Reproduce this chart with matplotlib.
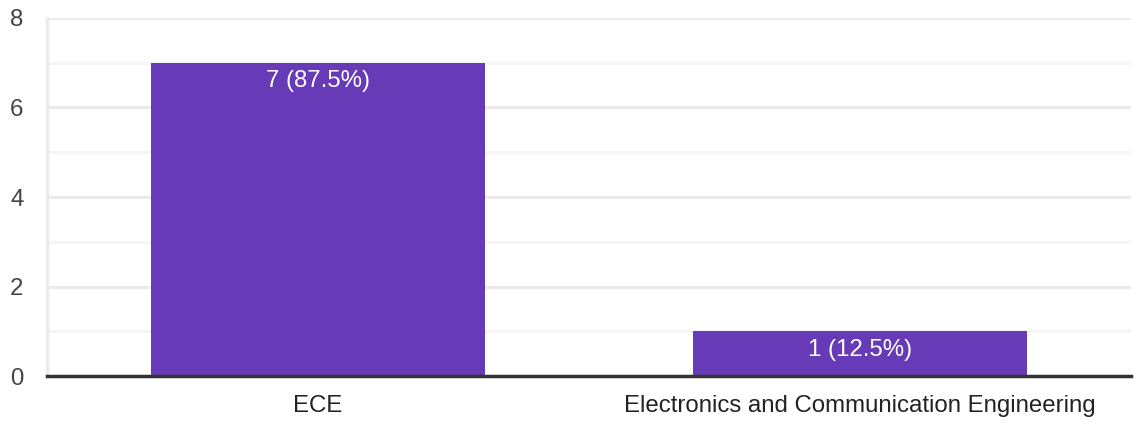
import numpy as np
import matplotlib
matplotlib.use("Agg")
import matplotlib.pyplot as plt

categories = ["ECE", "Electronics and Communication Engineering"]
counts = [7, 1]
labels = ["7 (87.5%)", "1 (12.5%)"]

plt.rcParams["font.family"] = ["Liberation Sans", "DejaVu Sans"]

fig = plt.figure(figsize=(11.34, 4.23), dpi=100)
ax = fig.add_axes([47 / 1134, 47 / 423, 1084 / 1134, 358 / 423])

x = np.arange(len(categories))
bars = ax.bar(x, counts, width=0.617, color="#673ab7", zorder=3)

for b, lab in zip(bars, labels):
    ax.annotate(lab, (b.get_x() + b.get_width() / 2, b.get_height()),
                xytext=(0, -5.5), textcoords="offset points",
                ha="center", va="top", color="white", fontsize=17.3, zorder=4)

ax.set_xlim(-0.5, 1.5)
ax.set_ylim(0, 8)
ax.set_xticks(x)
ax.set_xticklabels(categories)
ax.set_yticks([0, 2, 4, 6, 8])
ax.set_yticks([1, 3, 5, 7], minor=True)

ax.grid(axis="y", which="major", color="#ebebeb", linewidth=2.2, zorder=0)
ax.grid(axis="y", which="minor", color="#f5f5f5", linewidth=2.2, zorder=0)

for s in ["top", "right"]:
    ax.spines[s].set_visible(False)
ax.spines["left"].set_color("#ebebeb")
ax.spines["left"].set_linewidth(2.5)
ax.spines["bottom"].set_color("#333333")
ax.spines["bottom"].set_linewidth(2.5)
ax.spines["bottom"].set_zorder(5)

ax.tick_params(axis="both", which="both", length=0, labelsize=17.3, colors="#444444")
ax.tick_params(axis="y", pad=17)
ax.tick_params(axis="x", pad=14, labelcolor="#222222")

fig.savefig("out.png", dpi=100)
plt.close(fig)
